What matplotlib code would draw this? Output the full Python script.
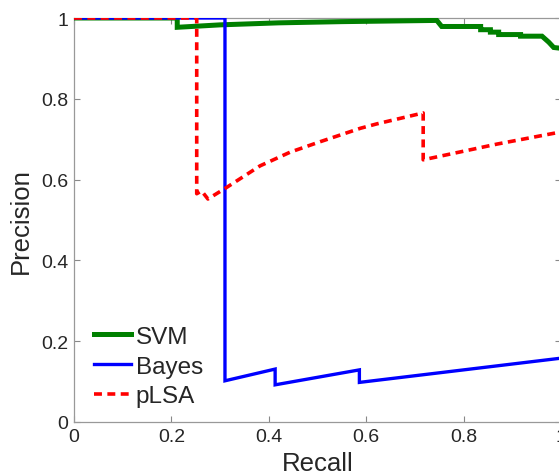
import matplotlib
matplotlib.use("Agg")
import matplotlib.pyplot as plt

plt.rcParams['font.family'] = ['Liberation Sans', 'DejaVu Sans']

# SVM precision-recall
svm_recall = [0.0, 0.212, 0.212, 0.30, 0.42, 0.55, 0.745, 0.755, 0.835, 0.835, 0.855, 0.855,
              0.872, 0.872, 0.917, 0.917, 0.961, 0.975, 0.985, 1.0]
svm_prec = [1.0, 1.0, 0.977, 0.983, 0.988, 0.991, 0.994, 0.979, 0.979, 0.971, 0.971, 0.965,
            0.965, 0.959, 0.959, 0.955, 0.955, 0.94, 0.927, 0.925]

# Bayes precision-recall
bayes_recall = [0.0, 0.310, 0.310, 0.413, 0.413, 0.586, 0.586, 1.0]
bayes_prec = [1.0, 1.0, 0.102, 0.131, 0.092, 0.129, 0.098, 0.158]

# pLSA precision-recall
plsa_recall = [0.0, 0.252, 0.252, 0.262, 0.275, 0.310, 0.382, 0.444, 0.506, 0.588, 0.622,
               0.717, 0.717, 0.869, 1.0]
plsa_prec = [1.0, 1.0, 0.565, 0.572, 0.552, 0.578, 0.634, 0.668, 0.694, 0.727, 0.738,
             0.765, 0.649, 0.688, 0.718]

xticks = [0, 0.2, 0.4, 0.6, 0.8, 1]
xticklabels = ['0', '0.2', '0.4', '0.6', '0.8', '1']
yticks = [0, 0.2, 0.4, 0.6, 0.8, 1]
yticklabels = ['0', '0.2', '0.4', '0.6', '0.8', '1']

fig = plt.figure(figsize=(5.59, 4.77), dpi=100)
ax = fig.add_axes([74 / 559, 54 / 477, 487 / 559, 404 / 477])

ax.plot(svm_recall, svm_prec, color='#008000', lw=3.6, label='SVM',
        solid_joinstyle='miter', zorder=3)
ax.plot(bayes_recall, bayes_prec, color='#0000ff', lw=2.4, label='Bayes',
        solid_joinstyle='miter', zorder=3)
ax.plot(plsa_recall, plsa_prec, color='#ff0000', lw=2.6, ls=(0, (2.2, 1.5)),
        label='pLSA', zorder=3)

ax.set_xlim(0, 1)
ax.set_ylim(0, 1)
ax.set_xticks(xticks)
ax.set_xticklabels(xticklabels)
ax.set_yticks(yticks)
ax.set_yticklabels(yticklabels)
ax.tick_params(direction='in', length=4.5, width=0.8, color='#888888', labelsize=14,
               labelcolor='#262626', top=True, right=True, pad=4)
for s in ax.spines.values():
    s.set_color('#999999')
    s.set_linewidth(0.9)

ax.set_xlabel('Recall', fontsize=18.5, color='#262626', labelpad=5)
ax.set_ylabel('Precision', fontsize=18.5, color='#262626', labelpad=6)

leg = ax.legend(loc='lower left', frameon=False, fontsize=17.5, handlelength=1.52,
                handletextpad=0.2, labelspacing=0.32, borderaxespad=0.2,
                bbox_to_anchor=(0.011, 0.0))
for t in leg.get_texts():
    t.set_color('#262626')

fig.savefig('out.png', dpi=100)
